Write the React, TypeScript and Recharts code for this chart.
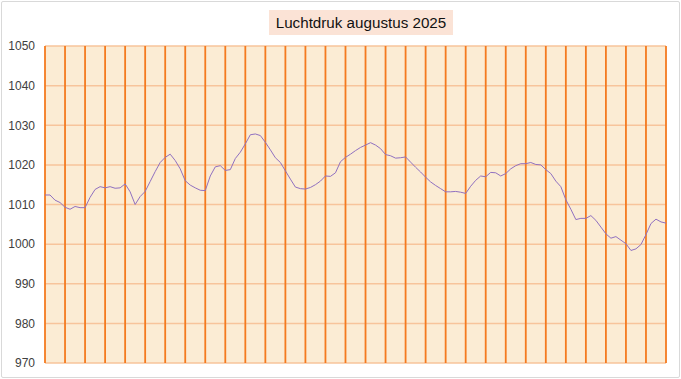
import React from "react";
import { LineChart, Line, XAxis, YAxis, CartesianGrid, ReferenceLine } from "recharts";

// Air pressure (hPa), sampled every 6 hours from 1 Aug 00:00 to 1 Sep 00:00
const pressure: number[] = [
  1012.4, 1012.4, 1011.1, 1010.5, 1009.3, 1008.8, 1009.5, 1009.2,
  1009.2, 1011.8, 1013.8, 1014.5, 1014.2, 1014.5, 1014.1, 1014.2,
  1015.2, 1013.2, 1010.0, 1012.0, 1013.3, 1015.8, 1018.3, 1020.6,
  1021.9, 1022.7, 1021.1, 1019.0, 1016.0, 1014.9, 1014.2, 1013.6,
  1013.5, 1017.2, 1019.5, 1019.8, 1018.6, 1018.8, 1021.6, 1023.2,
  1025.3, 1027.6, 1027.8, 1027.4, 1025.7, 1023.8, 1021.8, 1020.6,
  1018.5, 1016.4, 1014.4, 1014.0, 1013.9, 1014.3, 1015.0, 1015.9,
  1017.2, 1017.1, 1018.0, 1020.8, 1021.9, 1022.7, 1023.6, 1024.4,
  1025.0, 1025.6, 1025.0, 1024.1, 1022.6, 1022.3, 1021.7, 1021.8,
  1022.0, 1020.7, 1019.4, 1018.2, 1016.9, 1015.7, 1014.8, 1014.0,
  1013.2, 1013.2, 1013.3, 1013.1, 1012.8, 1014.6, 1016.1, 1017.2,
  1017.0, 1018.1, 1018.0, 1017.2, 1017.8, 1019.0, 1019.8, 1020.3,
  1020.3, 1020.6, 1020.1, 1020.0, 1018.8, 1017.8, 1015.9, 1014.5,
  1011.2, 1008.8, 1006.2, 1006.5, 1006.5, 1007.2, 1006.0, 1004.3,
  1002.6, 1001.5, 1001.9, 1001.0, 1000.1, 998.4, 998.8, 999.9,
  1002.4, 1005.2, 1006.3, 1005.6, 1005.3,
];

const SAMPLES_PER_DAY = 4;
const dayBoundaries: number[] = Array.from({ length: 32 }, (_, i) => i);
const yTicks: number[] = [970, 980, 990, 1000, 1010, 1020, 1030, 1040, 1050];
const title = "Luchtdruk augustus 2025";

const data = pressure.map((v, i) => ({ t: i / SAMPLES_PER_DAY, p: v }));

const FONT = "'Liberation Sans', Arial, sans-serif";

export default function App() {
  return (
    <div style={{ position: "absolute", left: 0, top: 0, width: 681, height: 379, background: "#ffffff", fontFamily: FONT }}>
      <div
        style={{
          position: "absolute",
          left: 1,
          top: 1,
          width: 677,
          height: 375,
          border: "1px solid #d9d9d9",
          borderRadius: 2,
        }}
      />
      <div
        style={{
          position: "absolute",
          left: 269,
          top: 10,
          width: 184,
          height: 25,
          background: "#fbe3d6",
          color: "#111",
          fontSize: 15.2,
          lineHeight: "25px",
          textAlign: "center",
          whiteSpace: "nowrap",
        }}
      >
        {title}
      </div>
      <div style={{ position: "absolute", left: 0, top: 0 }}>
        <LineChart width={681} height={379} data={data} margin={{ top: 46, right: 15, bottom: 16, left: 0 }}>
          <CartesianGrid
            horizontal={true}
            vertical={false}
            stroke="#f7c49b"
            strokeWidth={1.5}
            fill="#fbecd4"
            fillOpacity={1}
          />
          <XAxis dataKey="t" type="number" domain={[0, 31]} hide />
          <YAxis
            type="number"
            domain={[970, 1050]}
            ticks={yTicks}
            width={45}
            axisLine={false}
            tickLine={false}
            tickSize={0}
            tickMargin={10}
            tick={{ fill: "#404040", fontSize: 12, fontFamily: FONT }}
          />
          {dayBoundaries.map((d) => (
            <ReferenceLine key={d} x={d} stroke="#f47a1f" strokeWidth={1.8} ifOverflow="extendDomain" />
          ))}
          <Line
            type="linear"
            dataKey="p"
            stroke="#9070c0"
            strokeWidth={1}
            dot={false}
            isAnimationActive={false}
          />
        </LineChart>
      </div>
    </div>
  );
}
